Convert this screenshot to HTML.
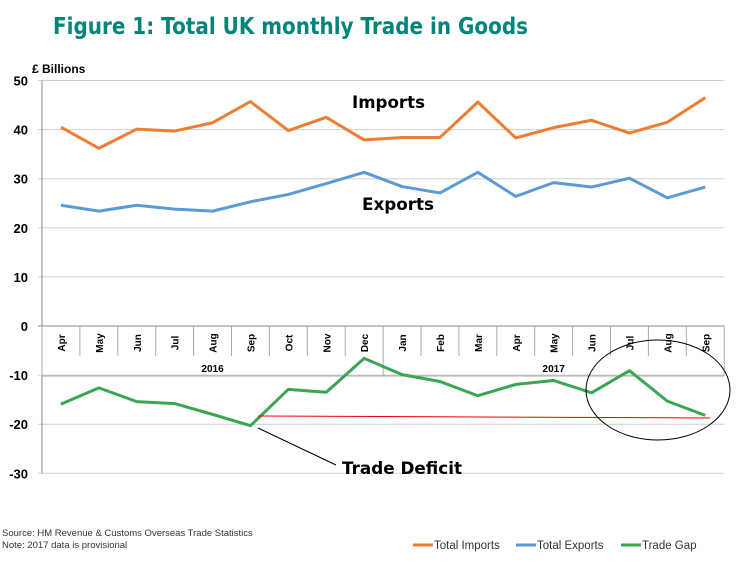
<!DOCTYPE html>
<html><head><meta charset="utf-8"><style>
body{margin:0;background:#fff;width:753px;height:583px;overflow:hidden;font-family:"Liberation Sans",sans-serif}
</style></head><body>
<svg id="c" width="753" height="583" xmlns="http://www.w3.org/2000/svg" font-family="Liberation Sans, sans-serif">
<text x="53" y="34" font-size="23" font-weight="bold" fill="#00857a" font-family="DejaVu Sans, sans-serif" textLength="475" lengthAdjust="spacingAndGlyphs">Figure 1: Total UK monthly Trade in Goods</text>
<text x="32" y="73" font-size="12" font-weight="bold" fill="#000">£ Billions</text>
<g id="grid"></g><g id="axes"></g><g id="series"></g>
<text x="352" y="108" font-size="17" font-weight="bold" font-family="DejaVu Sans, sans-serif" textLength="73" lengthAdjust="spacingAndGlyphs">Imports</text>
<text x="362" y="210" font-size="17" font-weight="bold" font-family="DejaVu Sans, sans-serif" textLength="72" lengthAdjust="spacingAndGlyphs">Exports</text>
<text x="342" y="474" font-size="17" font-weight="bold" font-family="DejaVu Sans, sans-serif" textLength="120" lengthAdjust="spacingAndGlyphs">Trade Deficit</text>
<line x1="258" y1="428" x2="336" y2="465" stroke="#000" stroke-width="1"/>
<line x1="258" y1="416" x2="710" y2="418" stroke="#e00" stroke-width="1"/>
<ellipse cx="658" cy="390" rx="72" ry="50" fill="none" stroke="#000" stroke-width="1"/>
<text x="2" y="536" font-size="9.5" fill="#333">Source:  HM Revenue &amp; Customs Overseas Trade Statistics</text>
<text x="2" y="548" font-size="9.5" fill="#333">Note: 2017 data is provisional</text>
<g font-size="11.5" fill="#333">
<line x1="413" y1="545" x2="433" y2="545" stroke="#ed7d31" stroke-width="3"/><text x="434" y="549">Total Imports</text>
<line x1="516" y1="545" x2="536" y2="545" stroke="#5b9bd5" stroke-width="3"/><text x="537" y="549">Total Exports</text>
<line x1="621" y1="545" x2="641" y2="545" stroke="#3aa552" stroke-width="3"/><text x="642" y="549">Trade Gap</text>
</g>
</svg>
<script>
const months=["Apr","May","Jun","Jul","Aug","Sep","Oct","Nov","Dec","Jan","Feb","Mar","Apr","May","Jun","Jul","Aug","Sep"];
const imports=[40.5,36.2,40.1,39.7,41.4,45.7,39.8,42.5,37.9,38.4,38.4,45.6,38.3,40.4,41.9,39.3,41.5,46.5];
const exportsData=[24.6,23.4,24.6,23.8,23.4,25.3,26.8,29.0,31.3,28.4,27.1,31.3,26.4,29.2,28.3,30.1,26.1,28.3];
const gap=[-15.9,-12.6,-15.4,-15.8,-18.0,-20.3,-12.9,-13.5,-6.6,-9.9,-11.3,-14.2,-11.9,-11.1,-13.6,-9.1,-15.3,-18.2];
const yTicks=[50,40,30,20,10,0,-10,-20,-30];
const years=["2016","2017"];
const NS="http://www.w3.org/2000/svg";
const X0=42,CW=37.9,Y0=326,PX=4.91;
const x=i=>X0+CW*(i+0.5), y=v=>Y0-v*PX;
function mk(t,a,p){const e=document.createElementNS(NS,t);for(const k in a)e.setAttribute(k,a[k]);p.appendChild(e);return e;}
const grid=document.getElementById('grid'),axes=document.getElementById('axes'),ser=document.getElementById('series');
const right=X0+CW*months.length;
yTicks.forEach(v=>{
 const l=mk('line',{x1:X0-4,x2:right,y1:y(v),y2:y(v),stroke:v===0?'#888':'#cfcfcf','stroke-width':1},grid);
 
 
 const t=mk('text',{x:X0-14,y:y(v)+5,'text-anchor':'end','font-size':13,'font-weight':'bold'},axes);
 t.textContent=v;
 
 
});
mk('line',{x1:X0,x2:X0,y1:y(50),y2:y(-30),stroke:'#888'},axes);
for(let i=0;i<=months.length;i++){
 const big=(i===0||i===9||i===months.length);
 mk('line',{x1:X0+CW*i,x2:X0+CW*i,y1:Y0,y2:big?Y0+50:Y0+30,stroke:'#aaa'},axes);
}
mk('line',{x1:X0,x2:right,y1:Y0+50,y2:Y0+50,stroke:'#aaa'},axes);
months.forEach((m,i)=>{
 const t=mk('text',{x:0,y:0,transform:`translate(${x(i)+4},${Y0+17}) rotate(-90)`,'text-anchor':'middle','font-size':10,'font-weight':'bold'},axes);
 t.textContent=m;
 
 
});
years.forEach((yr,k)=>{
 const c=k===0?(X0+CW*4.5):(X0+CW*13.5);
 const t=mk('text',{x:c,y:Y0+46,'text-anchor':'middle','font-size':10,'font-weight':'bold'},axes);
 t.textContent=yr;
 
 
});
[[imports,'#ed7d31','imports-line'],[exportsData,'#5b9bd5','exports-line'],[gap,'#3aa552','trade-gap-line']].forEach(([d,c,n])=>{
 const p=mk('polyline',{points:d.map((v,i)=>x(i)+','+y(v)).join(' '),fill:'none',stroke:c,'stroke-width':3,'stroke-linejoin':'round'},ser);
 
 
});
</script>
</body></html>
